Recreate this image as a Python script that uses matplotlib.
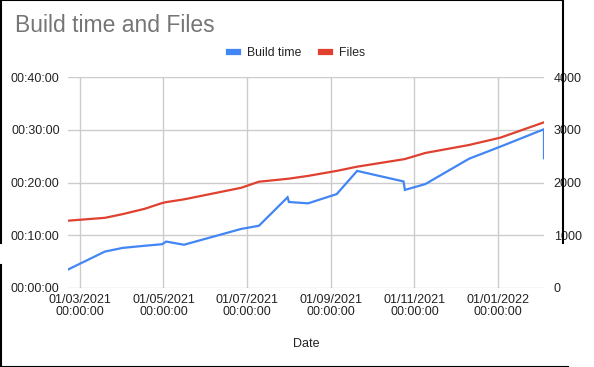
import matplotlib
matplotlib.use("Agg")
import matplotlib.pyplot as plt
import matplotlib.dates as mdates
from matplotlib.lines import Line2D
from matplotlib.ticker import FuncFormatter, FixedLocator
import datetime as dt

# ---- data ----
dates = [
    "2021-02-20", "2021-03-19", "2021-04-01", "2021-04-17", "2021-04-30",
    "2021-05-03", "2021-05-16", "2021-06-27", "2021-07-10", "2021-07-31",
    "2021-08-01", "2021-08-15", "2021-09-05", "2021-09-20", "2021-10-24",
    "2021-10-25", "2021-11-09", "2021-12-11", "2022-01-03", "2022-02-04",
    "2022-02-04",
]
build_minutes = [
    3.5, 6.9, 7.6, 8.0, 8.3,
    8.8, 8.2, 11.2, 11.8, 17.2,
    16.3, 16.05, 17.8, 22.2, 20.2,
    18.6, 19.7, 24.5, 26.8, 30.1,
    24.6,
]
files = [
    1276, 1330, 1400, 1500, 1610,
    1628, 1680, 1900, 2015, 2070,
    2073, 2125, 2220, 2300, 2440,
    2445, 2560, 2711, 2850, 3141,
    3141,
]
xtick_dates = ["2021-03-01", "2021-05-01", "2021-07-01", "2021-09-01",
               "2021-11-01", "2022-01-01"]
left_ticks = [0, 10, 20, 30, 40]
right_ticks = [0, 1000, 2000, 3000, 4000]

title = "Build time and Files"
series_names = ["Build time", "Files"]
xlabel = "Date"

BLUE = "#4285F4"
RED = "#E0402F"
GRID = "#cccccc"
TXT = "#222222"
FONT = "Liberation Sans"

plt.rcParams["font.family"] = [FONT, "DejaVu Sans"]

W, H = 594, 367
fig = plt.figure(figsize=(W / 100, H / 100), dpi=100)
fig.patch.set_facecolor("white")

L, R, T, B = 68, 544, 77, 288
ax = fig.add_axes([L / W, 1 - B / H, (R - L) / W, (B - T) / H])
ax2 = ax.twinx()

x = [dt.datetime.strptime(d, "%Y-%m-%d") for d in dates]
xt = [dt.datetime.strptime(d, "%Y-%m-%d") for d in xtick_dates]

ax.plot(x, build_minutes, color=BLUE, lw=1.6, solid_joinstyle="miter", zorder=3)
ax2.plot(x, files, color=RED, lw=1.6, zorder=3)

ax.set_xlim(x[0], x[-1])
ax.set_ylim(0, 40)
ax2.set_ylim(0, 4000)

ax.xaxis.set_major_locator(FixedLocator(mdates.date2num(xt)))
ax.xaxis.set_major_formatter(mdates.DateFormatter("%d/%m/%Y\n%H:%M:%S"))
ax.set_yticks(left_ticks)
ax.yaxis.set_major_formatter(FuncFormatter(
    lambda v, p: "%02d:%02d:00" % (int(v) // 60, int(v) % 60)))
ax2.set_yticks(right_ticks)
ax2.yaxis.set_major_formatter(FuncFormatter(lambda v, p: "%d" % v))

ax.grid(True, color=GRID, lw=1)
ax.set_axisbelow(True)
for a in (ax, ax2):
    for s in a.spines.values():
        s.set_visible(False)
    a.tick_params(length=0, labelsize=9, colors=TXT)
ax.tick_params(axis="y", pad=6)
ax2.tick_params(axis="y", pad=7)
ax.tick_params(axis="x", pad=4)
for lab in ax.get_xticklabels():
    lab.set_linespacing(1.0)
ax2.patch.set_visible(False)

ax.set_xlabel(xlabel, fontsize=9, color=TXT, labelpad=15)

fig.text(15 / W, 1 - 25 / H, title, fontsize=16.5, color="#757575",
         ha="left", va="center")

handles = [Line2D([], [], color=BLUE, lw=4.5),
           Line2D([], [], color=RED, lw=4.5)]
fig.legend(handles, series_names, loc="center", ncol=2,
           bbox_to_anchor=(0.5, 1 - 53 / H), frameon=False, fontsize=8.8,
           handlelength=0.75, handletextpad=0.7, columnspacing=1.6,
           labelcolor=TXT)

# outer frame fragments
def fline(x0, y0, x1, y1):
    fig.add_artist(Line2D([x0 / W, x1 / W], [1 - y0 / H, 1 - y1 / H],
                          color="black", lw=1.5, zorder=10))

fline(0.5, 0, 563, 0)
fline(563, 0, 563, 243)
fline(0.5, 0, 0.5, 243)
fline(0.5, 265, 0.5, 367)
fline(0, 366.5, 568, 366.5)

fig.savefig("out.png", dpi=100)
